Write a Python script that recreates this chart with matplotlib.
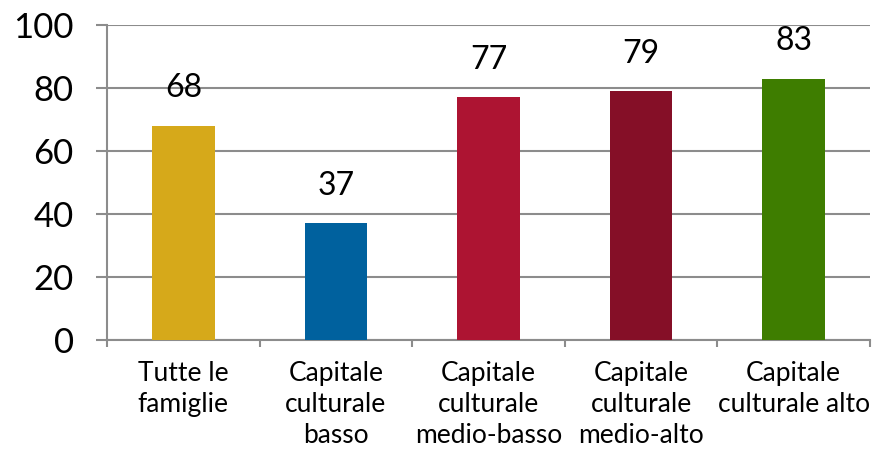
import matplotlib
matplotlib.use('Agg')
import matplotlib.pyplot as plt
import numpy as np

categories = ['Tutte le\nfamiglie', 'Capitale\nculturale\nbasso', 'Capitale\nculturale\nmedio-basso',
              'Capitale\nculturale\nmedio-alto', 'Capitale\nculturale alto']
values = [68, 37, 77, 79, 83]
colors = ['#D6A91A', '#00619E', '#AD1432', '#850F27', '#3E7D00']

plt.rcParams['font.family'] = ['Lato', 'DejaVu Sans']
grey = '#8C8C8C'

fig = plt.figure(figsize=(8.73, 4.55), dpi=100)
ax = fig.add_axes([0.1226, 0.2527, 0.874, 0.6923])

x = np.arange(len(values))
bars = ax.bar(x, values, width=0.41, color=colors, zorder=3)
for b, v in zip(bars, values):
    ax.annotate(str(v), (b.get_x() + b.get_width() / 2, v), xytext=(0, 27),
                textcoords='offset points', ha='center', va='center', fontsize=23)

ax.set_xlim(-0.5, len(values) - 0.5)
ax.set_ylim(0, 100)
ax.set_yticks([0, 20, 40, 60, 80, 100])
ax.grid(axis='y', color=grey, linewidth=1.5, zorder=0)
ax.tick_params(axis='y', labelsize=25, length=8, width=1.5, color=grey, pad=16)

ax.set_xticks(x)
ax.set_xticklabels(categories, fontsize=19, linespacing=1.3)
ax.tick_params(axis='x', length=0, pad=15)
ax.set_xticks(np.arange(len(values) + 1) - 0.5, minor=True)
ax.tick_params(axis='x', which='minor', length=5, width=1.5, color=grey)

for s in ['top', 'right']:
    ax.spines[s].set_visible(False)
for s in ['left', 'bottom']:
    ax.spines[s].set_color(grey)
    ax.spines[s].set_linewidth(1.5)

fig.savefig('out.png', dpi=100)
